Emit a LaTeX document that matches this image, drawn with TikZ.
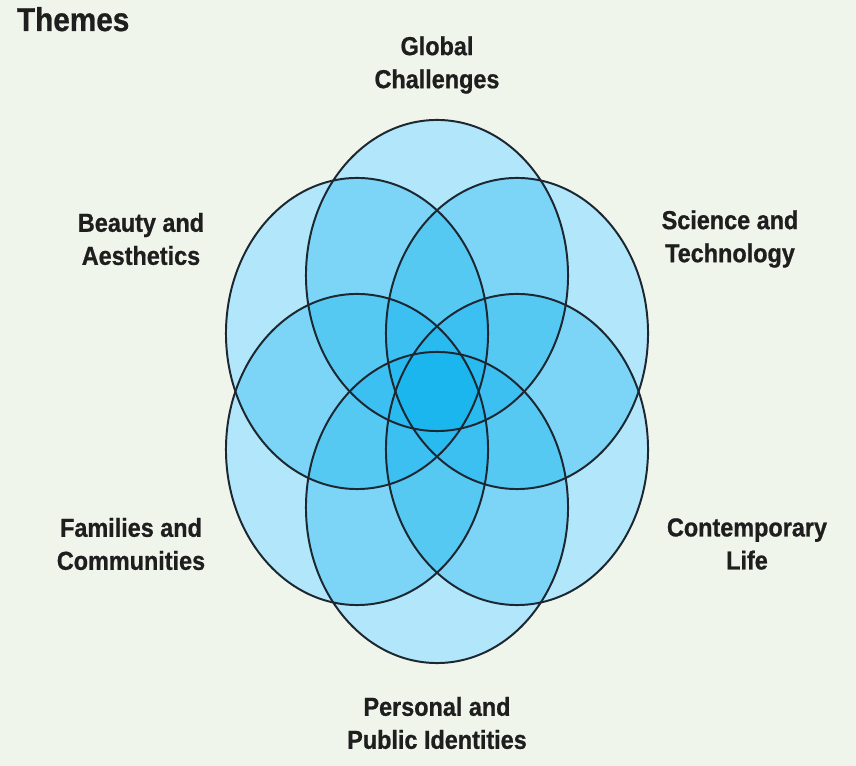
\documentclass[tikz,border=0pt]{standalone}
\usepackage{fontspec}
\setmainfont{Liberation Sans}[FakeStretch=0.9, BoldFeatures={FakeBold=0.8}]
\usepackage{tikz}
\usetikzlibrary{positioning}
\definecolor{Paper}{HTML}{F0F5EC}
\definecolor{Petal}{HTML}{00AEEF}
\definecolor{Ink}{HTML}{1E1E1E}
\definecolor{Rim}{HTML}{1C2731}
\tikzset{
  petal/.style={fill=Petal, fill opacity=0.3},
  rim/.style={draw=Rim, line width=1.4pt},
  theme/.style={align=center, text=Ink,
    font=\bfseries\fontsize{18.5}{23.5}\selectfont},
}

\begin{document}
\begin{tikzpicture}[x=0.025cm, y=-0.025cm]
  \fill[Paper] (0,0) rectangle (856,766);
  \useasboundingbox (0,0) rectangle (856,766);

  % white base under the petals, then one tinted layer per petal
  \foreach \cx/\cy in {437/275.5, 517/333.5, 517/449.5, 437/507.5, 357/449.5, 357/333.5}
    \fill[white] (\cx,\cy) ellipse [x radius=3.275cm, y radius=3.8875cm];
  \foreach \cx/\cy in {437/275.5, 517/333.5, 517/449.5, 437/507.5, 357/449.5, 357/333.5}
    \fill[petal] (\cx,\cy) ellipse [x radius=3.275cm, y radius=3.8875cm];
  \foreach \cx/\cy in {437/275.5, 517/333.5, 517/449.5, 437/507.5, 357/449.5, 357/333.5}
    \draw[rim] (\cx,\cy) ellipse [x radius=3.275cm, y radius=3.8875cm];

  \node[anchor=base west, text=Ink, font=\bfseries\fontsize{23.5}{28}\selectfont]
    (title) at (12,31) {Themes};

  \node[theme] (global) at (437,65) {Global\\Challenges};
  \node[theme] (beauty) at (141,239) {Beauty and\\Aesthetics};
  \node[theme] (science) at (730,239) {Science and\\Technology};
  \node[theme] (families) at (131,544) {Families and\\Communities};
  \node[theme] (contemporary) at (747,544) {Contemporary\\Life};
  \node[theme] (personal) at (437,723) {Personal and\\Public Identities};
\end{tikzpicture}
\end{document}
